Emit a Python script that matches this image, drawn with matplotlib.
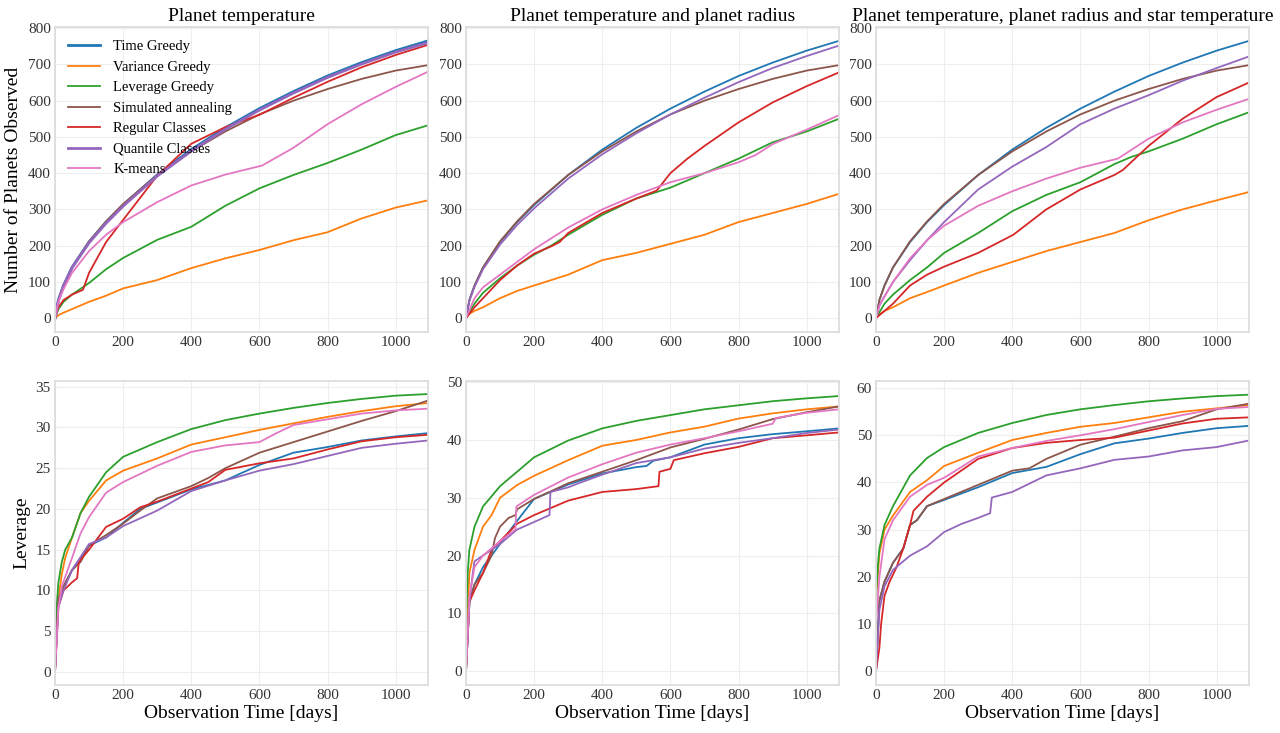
"""
Planets observed and leverage vs observation time for the seven schedulers.
"""

import matplotlib
matplotlib.use("Agg")
import matplotlib.pyplot as plt

plt.rcParams["font.family"] = ["Liberation Serif", "DejaVu Serif"]

# Legend order and colours
METHODS = ["Time Greedy", "Variance Greedy", "Leverage Greedy", "Simulated annealing",
           "Regular Classes", "Quantile Classes", "K-means"]
COLORS = ["#1f77b4", "#ff7f0e", "#2ca02c", "#8c564b", "#d62728", "#9467bd", "#e377c2"]

TITLES = ["Planet temperature",
          "Planet temperature and planet radius",
          "Planet temperature, planet radius and star temperature"]

# common day grid for the smooth curves
DAYS = [0, 10, 25, 50, 100, 150, 200, 300, 400, 500, 600, 700, 800, 900, 1000, 1095]

# ---- top row: number of planets observed ----
time_greedy_n = [0, 50, 90, 140, 210, 265, 312, 395, 465, 525, 578, 625, 668, 705, 738, 765]
annealing_n = [0, 50, 90, 140, 212, 267, 315, 395, 460, 515, 562, 600, 632, 660, 683, 698]

# panel 1: planet temperature
p1_variance = [0, 8, 15, 25, 45, 62, 82, 105, 138, 165, 188, 215, 237, 275, 305, 325]
p1_leverage = [0, 25, 45, 65, 97, 135, 166, 216, 252, 310, 358, 395, 428, 465, 505, 532]
p1_quantile = [0, 49, 89, 139, 208, 262, 309, 392, 461, 521, 574, 621, 664, 701, 734, 760]
p1_regular_days = [0, 10, 25, 50, 82, 100, 150, 200, 300, 400, 500, 600, 700, 800, 900, 1000, 1095]
p1_regular = [0, 30, 50, 65, 78, 125, 210, 271, 393, 481, 527, 561, 608, 652, 692, 726, 754]
p1_kmeans_days = [0, 10, 25, 50, 100, 150, 200, 300, 400, 500, 608, 700, 800, 900, 1000, 1095]
p1_kmeans = [0, 45, 80, 125, 185, 230, 265, 320, 366, 396, 421, 470, 535, 590, 638, 680]

# panel 2: planet temperature and planet radius
p2_variance = [0, 12, 20, 30, 55, 75, 90, 120, 160, 180, 205, 230, 265, 290, 315, 343]
p2_leverage_days = [0, 25, 50, 100, 150, 200, 250, 300, 400, 500, 600, 650, 700, 800, 900, 1000, 1095]
p2_leverage = [0, 40, 70, 110, 145, 175, 200, 230, 285, 330, 360, 380, 400, 440, 485, 515, 550]
p2_quantile = [0, 48, 86, 135, 203, 257, 303, 385, 452, 510, 562, 608, 651, 690, 723, 752]
p2_regular_days = [0, 25, 50, 100, 150, 200, 250, 275, 300, 400, 500, 560, 600, 650, 700, 800, 900, 1000, 1095]
p2_regular = [0, 30, 55, 105, 145, 178, 198, 210, 235, 290, 330, 352, 400, 440, 475, 540, 595, 640, 678]
p2_kmeans_days = [0, 25, 50, 100, 150, 200, 300, 400, 500, 600, 700, 800, 850, 900, 1000, 1095]
p2_kmeans = [0, 55, 85, 120, 155, 190, 250, 300, 340, 375, 400, 430, 450, 480, 520, 560]

# panel 3: planet temperature, planet radius and star temperature
p3_variance = [0, 10, 20, 30, 55, 72, 90, 125, 155, 185, 210, 235, 270, 300, 325, 348]
p3_leverage_days = [0, 25, 50, 100, 150, 200, 300, 400, 500, 600, 700, 750, 800, 900, 1000, 1095]
p3_leverage = [0, 40, 65, 105, 140, 180, 235, 295, 340, 375, 425, 445, 460, 495, 535, 568]
p3_quantile = [0, 35, 60, 100, 160, 215, 265, 355, 418, 472, 535, 578, 615, 655, 690, 722]
p3_regular_days = [0, 25, 50, 100, 150, 200, 300, 403, 500, 600, 700, 725, 800, 900, 1000, 1095]
p3_regular = [0, 20, 40, 90, 120, 142, 180, 230, 300, 355, 395, 409, 475, 550, 610, 650]
p3_kmeans_days = [0, 10, 25, 50, 100, 150, 200, 300, 400, 500, 600, 710, 800, 900, 1000, 1095]
p3_kmeans = [0, 35, 60, 100, 165, 215, 255, 310, 350, 385, 415, 440, 495, 540, 575, 605]

# ---- bottom row: leverage ----
# panel 4: planet temperature
p4_time_greedy_days = [0, 10, 25, 50, 100, 150, 200, 250, 300, 400, 500, 600, 700, 800, 900, 1000, 1095]
p4_time_greedy = [0, 9, 10.5, 12.5, 15.5, 16.5, 18.3, 20, 20.8, 22.4, 23.5, 25.4, 26.9, 27.6, 28.4, 28.9, 29.3]
p4_variance_days = [0, 10, 20, 30, 50, 75, 100, 150, 200, 300, 400, 500, 600, 700, 800, 900, 1000, 1095]
p4_variance = [2, 9, 12, 14, 16.5, 19.5, 21, 23.5, 24.7, 26.2, 27.9, 28.8, 29.7, 30.5, 31.3, 32, 32.6, 33]
p4_leverage_days = [0, 5, 10, 20, 30, 50, 75, 100, 150, 200, 300, 400, 500, 600, 700, 800, 900, 1000, 1095]
p4_leverage = [2, 8, 11, 13.5, 15, 16.5, 19.5, 21.5, 24.5, 26.4, 28.2, 29.8, 30.9, 31.7, 32.4, 33, 33.5, 33.9, 34.1]
p4_annealing_days = [0, 10, 25, 50, 75, 100, 150, 200, 250, 300, 400, 450, 500, 600, 700, 800, 900, 1000, 1095]
p4_annealing = [0, 9, 10.5, 12.5, 13.5, 15.5, 16.8, 18.2, 19.8, 21.3, 22.8, 23.8, 25, 26.9, 28.2, 29.5, 30.8, 32, 33.3]
p4_regular_days = [0, 10, 25, 50, 65, 70, 100, 150, 200, 250, 300, 400, 450, 500, 600, 700, 800, 900, 1000, 1095]
p4_regular = [0, 8, 10, 11, 11.5, 13.5, 15, 17.8, 18.8, 20.2, 20.9, 22.5, 23.3, 24.8, 25.6, 26.2, 27.3, 28.3, 28.8, 29.1]
p4_quantile = [0, 8, 10, 12.5, 15.7, 16.5, 17.9, 19.8, 22.2, 23.5, 24.7, 25.5, 26.5, 27.5, 28, 28.4]
p4_kmeans_days = [0, 10, 20, 50, 75, 100, 150, 200, 300, 400, 500, 600, 650, 700, 800, 900, 1000, 1095]
p4_kmeans = [0, 8, 10.5, 14, 17, 19, 22, 23.3, 25.3, 27, 27.8, 28.2, 29.3, 30.3, 31, 31.7, 32.1, 32.3]

# panel 5: planet temperature and planet radius
p5_time_greedy_days = [0, 10, 25, 50, 100, 150, 200, 300, 400, 500, 530, 550, 600, 700, 800, 900, 1000, 1095]
p5_time_greedy = [0, 12, 15, 18, 22, 26, 29.8, 32.3, 34.2, 35.3, 35.5, 36.4, 37, 39.2, 40.3, 41, 41.5, 42]
p5_variance_days = [0, 10, 25, 50, 75, 100, 150, 200, 300, 400, 500, 600, 700, 800, 900, 1000, 1095]
p5_variance = [5, 17, 21, 25, 27, 30, 32.2, 33.8, 36.5, 39, 40, 41.3, 42.3, 43.7, 44.6, 45.3, 45.8]
p5_leverage_days = [0, 5, 10, 25, 50, 100, 150, 200, 300, 400, 500, 600, 700, 800, 900, 1000, 1095]
p5_leverage = [8, 17, 21, 25, 28.5, 32, 34.5, 37, 39.9, 42, 43.3, 44.3, 45.3, 46, 46.7, 47.2, 47.6]
p5_annealing_days = [0, 10, 25, 50, 75, 85, 100, 125, 145, 150, 200, 300, 400, 500, 600, 700, 800, 900, 1000, 1095]
p5_annealing = [0, 12, 15, 17, 20, 23, 25, 26.5, 27, 28, 29.8, 32.5, 34.5, 36.5, 38.7, 40.2, 41.8, 43.6, 44.8, 45.8]
p5_regular_days = [0, 5, 10, 25, 50, 75, 100, 150, 200, 300, 400, 500, 565, 568, 600, 610, 700, 800, 900, 1000, 1095]
p5_regular = [0, 6, 12, 14, 17, 21, 22.5, 25.5, 27, 29.5, 31, 31.5, 32, 34.5, 35, 36.5, 37.7, 38.8, 40.3, 40.8, 41.3]
p5_quantile_days = [0, 10, 20, 25, 50, 100, 150, 200, 245, 248, 300, 330, 400, 500, 600, 700, 800, 900, 1000, 1095]
p5_quantile = [0, 12, 17, 19, 20, 22, 24.5, 25.8, 27, 31, 31.8, 32.5, 34, 36, 37, 38.5, 39.5, 40.3, 41.2, 41.8]
p5_kmeans_days = [0, 10, 25, 50, 100, 145, 148, 200, 300, 400, 500, 600, 700, 800, 900, 910, 1000, 1095]
p5_kmeans = [0, 13, 18, 20, 22.5, 24.5, 28.5, 30.5, 33.5, 35.8, 37.8, 39.2, 40.3, 41.5, 42.8, 43.8, 44.7, 45.3]

# panel 6: planet temperature, planet radius and star temperature
p6_time_greedy_days = [0, 10, 25, 50, 80, 100, 120, 150, 200, 300, 400, 500, 600, 700, 800, 900, 1000, 1095]
p6_time_greedy = [0, 15, 19, 23, 26, 31, 32, 35, 36.3, 39, 42, 43.3, 46, 48.3, 49.3, 50.5, 51.5, 52]
p6_variance_days = [0, 10, 25, 50, 100, 150, 200, 300, 400, 500, 600, 700, 800, 900, 1000, 1095]
p6_variance = [15, 25, 30, 33, 38, 40.5, 43.5, 46.3, 49, 50.5, 51.8, 52.6, 53.8, 55, 55.7, 56.4]
p6_leverage_days = [0, 5, 10, 25, 50, 100, 150, 200, 300, 400, 500, 600, 700, 800, 900, 1000, 1095]
p6_leverage = [16, 22, 26, 31, 35, 41.5, 45.2, 47.5, 50.5, 52.6, 54.3, 55.5, 56.4, 57.2, 57.8, 58.3, 58.6]
p6_annealing_days = [0, 10, 25, 50, 80, 100, 120, 150, 200, 300, 400, 450, 500, 600, 700, 800, 900, 1000, 1095]
p6_annealing = [0, 15, 19, 23, 26, 31, 32, 35, 36.5, 39.5, 42.5, 43, 45, 48, 49.7, 51.5, 53, 55.5, 56.7]
p6_regular_days = [0, 10, 15, 25, 40, 60, 80, 100, 110, 150, 200, 250, 300, 400, 500, 600, 700, 800, 900, 1000, 1095]
p6_regular = [0, 5, 10, 16, 19, 22, 26, 31, 34, 37, 40, 42.5, 45, 47.3, 48.4, 49, 49.5, 51, 52.5, 53.5, 53.8]
p6_quantile_days = [0, 10, 25, 50, 100, 150, 200, 250, 300, 335, 340, 400, 500, 600, 700, 800, 900, 1000, 1095]
p6_quantile = [0, 13, 18, 21.5, 24.5, 26.5, 29.5, 31.2, 32.5, 33.5, 36.8, 38, 41.5, 43, 44.8, 45.5, 46.8, 47.5, 48.9]
p6_kmeans_days = [0, 10, 25, 50, 100, 150, 200, 300, 400, 500, 600, 700, 800, 900, 1000, 1095]
p6_kmeans = [10, 20, 28, 32, 37, 39.5, 41, 45.5, 47.3, 48.8, 50, 51.3, 52.8, 54.3, 55.6, 56]

# (days, values) per method, in legend order
top_panels = [
    [(DAYS, time_greedy_n), (DAYS, p1_variance), (DAYS, p1_leverage), (DAYS, annealing_n),
     (p1_regular_days, p1_regular), (DAYS, p1_quantile), (p1_kmeans_days, p1_kmeans)],
    [(DAYS, time_greedy_n), (DAYS, p2_variance), (p2_leverage_days, p2_leverage), (DAYS, annealing_n),
     (p2_regular_days, p2_regular), (DAYS, p2_quantile), (p2_kmeans_days, p2_kmeans)],
    [(DAYS, time_greedy_n), (DAYS, p3_variance), (p3_leverage_days, p3_leverage), (DAYS, annealing_n),
     (p3_regular_days, p3_regular), (DAYS, p3_quantile), (p3_kmeans_days, p3_kmeans)],
]
bottom_panels = [
    [(p4_time_greedy_days, p4_time_greedy), (p4_variance_days, p4_variance), (p4_leverage_days, p4_leverage),
     (p4_annealing_days, p4_annealing), (p4_regular_days, p4_regular), (DAYS, p4_quantile),
     (p4_kmeans_days, p4_kmeans)],
    [(p5_time_greedy_days, p5_time_greedy), (p5_variance_days, p5_variance), (p5_leverage_days, p5_leverage),
     (p5_annealing_days, p5_annealing), (p5_regular_days, p5_regular), (p5_quantile_days, p5_quantile),
     (p5_kmeans_days, p5_kmeans)],
    [(p6_time_greedy_days, p6_time_greedy), (p6_variance_days, p6_variance), (p6_leverage_days, p6_leverage),
     (p6_annealing_days, p6_annealing), (p6_regular_days, p6_regular), (p6_quantile_days, p6_quantile),
     (p6_kmeans_days, p6_kmeans)],
]
bottom_ylims = [(-1.6, 35.7), (-2.4, 50.2), (-2.9, 61.5)]

fig = plt.figure(figsize=(12.8, 7.33), dpi=100)
lefts = [55 / 1280, 466 / 1280, 876 / 1280]
width = 373 / 1280


def style(ax):
    ax.set_facecolor("white")
    ax.grid(True, color="#eeeeee", linewidth=0.8)
    ax.set_axisbelow(True)
    for s in ax.spines.values():
        s.set_color("#dddddd")
        s.set_linewidth(1.3)
    ax.tick_params(length=0, labelsize=11, colors="#333333", pad=3)
    ax.set_xlim(0, 1095)
    ax.set_xticks([0, 200, 400, 600, 800, 1000])


for col in range(3):
    ax_top = fig.add_axes([lefts[col], 1 - 332 / 733, width, 305 / 733])
    ax_bot = fig.add_axes([lefts[col], 1 - 685 / 733, width, 304 / 733])
    for ax, series in ((ax_top, top_panels[col]), (ax_bot, bottom_panels[col])):
        for i, (d, v) in enumerate(series):
            # blue and purple are drawn heavier in the first panel
            lw = 2.0 if (ax is ax_top and col == 0 and i in (0, 5)) else 1.3
            ax.plot(d, v, color=COLORS[i], lw=lw, label=METHODS[i])
        style(ax)
    ax_top.set_title(TITLES[col], fontsize=14, pad=4)
    ax_top.set_yticks(range(0, 801, 100))
    ax_bot.set_ylim(*bottom_ylims[col])
    ax_bot.set_xlabel("Observation Time [days]", fontsize=14, labelpad=2)
    if col == 0:
        ax_top.set_ylabel("Number of Planets Observed", fontsize=14, labelpad=4)
        ax_bot.set_ylabel("Leverage", fontsize=14, labelpad=4)
        ax_top.legend(loc="upper left", frameon=False, fontsize=10.5, handlelength=2.2,
                      handletextpad=0.9, labelspacing=0.5)

fig.savefig("out.png", dpi=100)
